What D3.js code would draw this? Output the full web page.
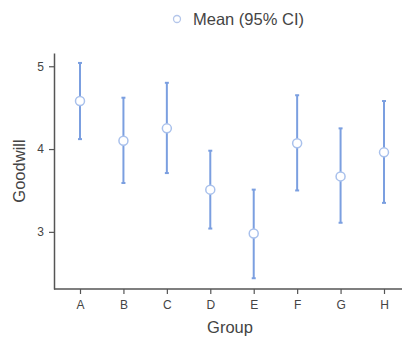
<!DOCTYPE html>
<html>
<head>
<meta charset="utf-8">
<script src="https://cdn.jsdelivr.net/npm/d3@7"></script>
<style>
  body { margin: 0; background: #fff; }
  svg { display: block; font-family: "Liberation Sans", Arial, sans-serif; }
</style>
</head>
<body>
<div id="chart"></div>
<script>
// datos
const groups = ['A', 'B', 'C', 'D', 'E', 'F', 'G', 'H'];
const means = [4.58, 4.10, 4.25, 3.51, 2.98, 4.07, 3.67, 3.96];
const lower = [4.12, 3.59, 3.71, 3.04, 2.44, 3.50, 3.11, 3.35];
const upper = [5.04, 4.62, 4.80, 3.98, 3.51, 4.65, 4.25, 4.58];
const yTicks = [3, 4, 5];

const width = 406, height = 338;
const margin = { top: 53, right: 4, bottom: 49, left: 54 };

const svg = d3.select('#chart').append('svg')
  .attr('width', width)
  .attr('height', height);

const x = d3.scalePoint()
  .domain(groups)
  .range([80, 384]);

const y = d3.scaleLinear()
  .domain([2.31, 5.16])
  .range([height - margin.bottom, margin.top]);

const axisColor = '#555';
const barColor = '#7b9fe0';

// Ejes
const xAxis = svg.append('g')
  .attr('transform', `translate(0,${height - margin.bottom})`)
  .call(d3.axisBottom(x).tickSize(5).tickPadding(6).tickSizeOuter(0));
xAxis.select('.domain').attr('d', `M${margin.left},0H${width - margin.right}`);

const yAxis = svg.append('g')
  .attr('transform', `translate(${margin.left},0)`)
  .call(d3.axisLeft(y).tickValues(yTicks).tickFormat(d3.format('d')).tickSize(5).tickPadding(5).tickSizeOuter(0));

svg.selectAll('.domain').attr('stroke', axisColor).attr('stroke-width', 1.5);
svg.selectAll('.tick line').attr('stroke', axisColor).attr('stroke-width', 1.2);
svg.selectAll('.tick text').attr('fill', '#444').attr('font-size', 12);

// Etiquetas de ejes
svg.append('text')
  .attr('x', 230)
  .attr('y', 333)
  .attr('text-anchor', 'middle')
  .attr('font-size', 16.5)
  .attr('fill', '#444')
  .text('Group');

svg.append('text')
  .attr('transform', `translate(25,${(margin.top + height - margin.bottom) / 2}) rotate(-90)`)
  .attr('text-anchor', 'middle')
  .attr('font-size', 16.5)
  .attr('fill', '#444')
  .text('Goodwill');

// Barras de error
groups.forEach((g, i) => {
  svg.append('line')
    .attr('x1', x(g)).attr('x2', x(g))
    .attr('y1', y(lower[i])).attr('y2', y(upper[i]))
    .attr('stroke', barColor)
    .attr('stroke-width', 2);
  [lower[i], upper[i]].forEach(v => {
    svg.append('line')
      .attr('x1', x(g) - 2).attr('x2', x(g) + 2)
      .attr('y1', y(v)).attr('y2', y(v))
      .attr('stroke', barColor)
      .attr('stroke-width', 2);
  });
});

// Puntos de la media
svg.selectAll('.mean')
  .data(means)
  .enter()
  .append('circle')
  .attr('class', 'mean')
  .attr('cx', (d, i) => x(groups[i]))
  .attr('cy', d => y(d))
  .attr('r', 4.5)
  .attr('fill', '#fff')
  .attr('stroke', '#a9c1ec')
  .attr('stroke-width', 1.5);

// Leyenda
const legend = svg.append('g').attr('transform', 'translate(177,19)');
legend.append('circle')
  .attr('r', 3.5)
  .attr('fill', '#fff')
  .attr('stroke', '#b4c6ea')
  .attr('stroke-width', 1.3);
legend.append('text')
  .attr('x', 16)
  .attr('y', 6)
  .attr('font-size', 16.5)
  .attr('fill', '#444')
  .text('Mean (95% CI)');
</script>
</body>
</html>
